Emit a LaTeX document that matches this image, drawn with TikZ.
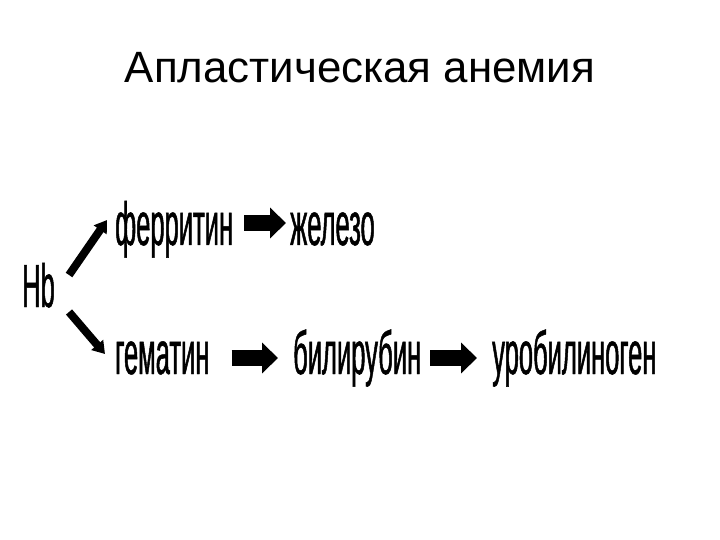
\documentclass[tikz,border=0pt]{standalone}
\usepackage{fontspec}
\setmainfont{Liberation Sans}
\newfontfamily\narrowfont[FakeStretch=0.42,FakeBold=0.8]{Liberation Sans}
\usetikzlibrary{arrows.meta}

\tikzset{
  word/.style={font=\narrowfont\fontsize{61}{61}\selectfont, inner sep=0pt, anchor=base west, text height=32bp, text depth=0pt},
  blockarrow/.style={draw=black, line width=16bp, -{Triangle[length=16bp,width=30bp]}},
  slantarrow/.style={draw=black, line width=8bp, -{Triangle[length=12bp,width=15bp]}}
}

\begin{document}
\begin{tikzpicture}[x=1bp,y=-1bp]

\useasboundingbox (0,0) rectangle (720,540);

\node (title) at (360,83) [anchor=base, inner sep=0pt, font=\fontsize{44}{50}\selectfont] {Апластическая анемия};

\node[word] (hb) at (22,307) {Hb};

%row1
\node[word] (ferritin) at (115,245) {ферритин};
\node[word] (iron) at (290,245) {железо};
\path[blockarrow] ([yshift=6bp]ferritin.east) ++(11,0) -- ([yshift=6bp,xshift=-4bp]iron.west);

%row2
\node[word] (hematin) at (115,374) {гематин};
\node[word] (bilirubin) at (293,374) {билирубин};
\node[word] (urobil) at (492,374) {уробилиноген};
\path[blockarrow] ([xshift=22bp]hematin.east) -- ([xshift=-15bp]bilirubin.west);
\path[blockarrow] ([xshift=9bp]bilirubin.east) -- ([xshift=-15bp]urobil.west);

%from Hb
\path[slantarrow] ([xshift=14bp,yshift=16bp]hb.east) -- ([xshift=-8bp,yshift=9bp]ferritin.west);
\path[slantarrow] ([xshift=14bp,yshift=-21bp]hb.east) -- ([xshift=-10bp,yshift=4bp]hematin.west);

\end{tikzpicture}
\end{document}
